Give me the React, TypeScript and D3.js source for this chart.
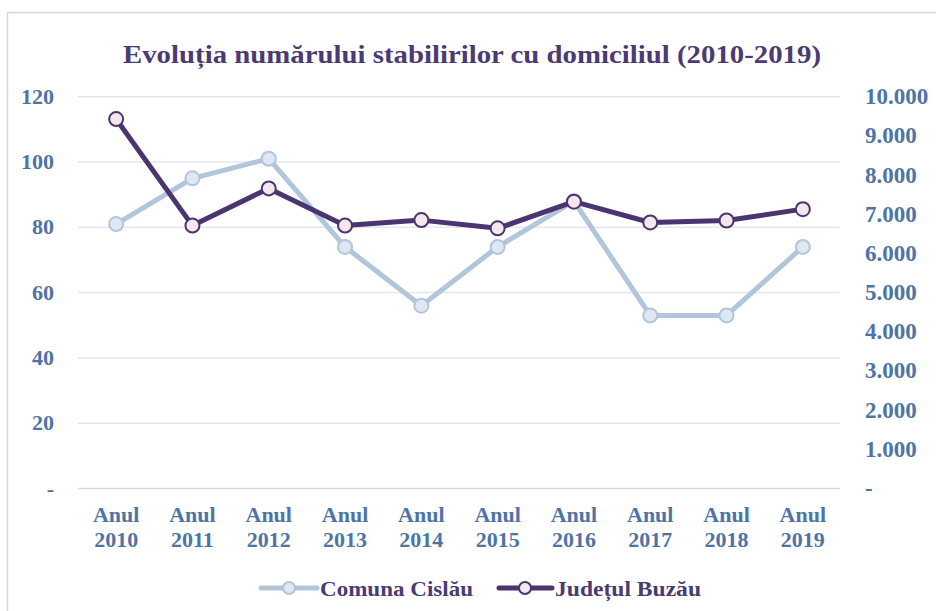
import React from "react";
import * as d3 from "d3";

const years = ["2010", "2011", "2012", "2013", "2014", "2015", "2016", "2017", "2018", "2019"];
const cislau = [81, 95, 101, 74, 56, 74, 88, 53, 53, 74];
const buzau = [9430, 6710, 7660, 6710, 6850, 6640, 7320, 6790, 6840, 7130];
const leftTicks = [0, 20, 40, 60, 80, 100, 120];
const rightTicks = [0, 1000, 2000, 3000, 4000, 5000, 6000, 7000, 8000, 9000, 10000];
const title = "Evoluția numărului stabilirilor cu domiciliul (2010-2019)";
const seriesNames = ["Comuna Cislău", "Județul Buzău"];

const W = 936;
const H = 611;
const FONT = "'Liberation Serif', 'DejaVu Serif', serif";
const AXIS_COLOR = "#4e74a6";
const TITLE_COLOR = "#4b3a73";
const C_LINE = "#b1c5db";
const C_FILL = "#dfe8f2";
const B_LINE = "#4a3570";
const B_FILL = "#f4e8ec";

export default function App() {
  const x = d3.scaleBand<string>().domain(years).range([78, 841]);
  const cx = (d: string) => (x(d) as number) + x.bandwidth() / 2;
  const yL = d3.scaleLinear().domain([0, 120]).range([488.5, 96.7]);
  const yR = d3.scaleLinear().domain([0, 10000]).range([488.5, 96.7]);

  const fmtR = (v: number) => (v === 0 ? "-" : d3.format(",")(v).replace(/,/g, "."));
  const fmtL = (v: number) => (v === 0 ? "-" : String(v));

  const lineC = d3
    .line<number>()
    .x((_, i) => cx(years[i]))
    .y((d) => yL(d));
  const lineB = d3
    .line<number>()
    .x((_, i) => cx(years[i]))
    .y((d) => yR(d));

  return (
    <svg
      width={W}
      height={H}
      style={{ position: "absolute", left: 0, top: 0, background: "#fff" }}
      fontFamily={FONT}
    >
      <rect x={7.5} y={12.5} width={1000} height={1000} fill="#fff" stroke="#d9d9d9" strokeWidth={1.5} />
      <text
        x={472}
        y={63}
        textAnchor="middle"
        fontSize={26}
        fontWeight="bold"
        fill={TITLE_COLOR}
        textLength={698}
        lengthAdjust="spacingAndGlyphs"
      >
        {title}
      </text>

      {leftTicks.map((t) => (
        <line
          key={"g" + t}
          x1={78}
          x2={840}
          y1={yL(t)}
          y2={yL(t)}
          stroke={t === 0 ? "#d9d9d9" : "#e7e5f0"}
          strokeWidth={1.5}
        />
      ))}

      {leftTicks.map((t) => (
        <text
          key={"l" + t}
          x={54}
          y={yL(t) + 7}
          textAnchor="end"
          fontSize={22}
          fontWeight="bold"
          fill={AXIS_COLOR}
        >
          {fmtL(t)}
        </text>
      ))}

      {rightTicks.map((t) => (
        <text
          key={"r" + t}
          x={865}
          y={yR(t) + 7.5}
          textAnchor="start"
          fontSize={23}
          fontWeight="bold"
          fill={AXIS_COLOR}
        >
          {fmtR(t)}
        </text>
      ))}

      {years.map((yv) => (
        <g key={"x" + yv}>
          <text x={cx(yv)} y={522} textAnchor="middle" fontSize={22} fontWeight="bold" fill={AXIS_COLOR}>
            Anul
          </text>
          <text x={cx(yv)} y={547} textAnchor="middle" fontSize={22} fontWeight="bold" fill={AXIS_COLOR}>
            {yv}
          </text>
        </g>
      ))}

      <path d={lineC(cislau) as string} fill="none" stroke={C_LINE} strokeWidth={5} strokeLinejoin="round" />
      {cislau.map((v, i) => (
        <circle key={"c" + i} cx={cx(years[i])} cy={yL(v)} r={7} fill={C_FILL} stroke={C_LINE} strokeWidth={2} />
      ))}

      <path d={lineB(buzau) as string} fill="none" stroke={B_LINE} strokeWidth={5} strokeLinejoin="round" />
      {buzau.map((v, i) => (
        <circle key={"b" + i} cx={cx(years[i])} cy={yR(v)} r={7} fill={B_FILL} stroke={B_LINE} strokeWidth={2} />
      ))}

      {/* Legend */}
      <g>
        <line x1={261} x2={317} y1={588} y2={588} stroke={C_LINE} strokeWidth={5} strokeLinecap="round" />
        <circle cx={289} cy={588} r={6} fill={C_FILL} stroke={C_LINE} strokeWidth={2} />
        <text
          x={320}
          y={596}
          fontSize={22}
          fontWeight="bold"
          fill={TITLE_COLOR}
          textLength={153}
          lengthAdjust="spacingAndGlyphs"
        >
          {seriesNames[0]}
        </text>
        <line x1={499} x2={552} y1={588} y2={588} stroke={B_LINE} strokeWidth={5} strokeLinecap="round" />
        <circle cx={525} cy={588} r={6} fill={B_FILL} stroke={B_LINE} strokeWidth={2} />
        <text
          x={555}
          y={596}
          fontSize={22}
          fontWeight="bold"
          fill={TITLE_COLOR}
          textLength={146}
          lengthAdjust="spacingAndGlyphs"
        >
          {seriesNames[1]}
        </text>
      </g>
    </svg>
  );
}
